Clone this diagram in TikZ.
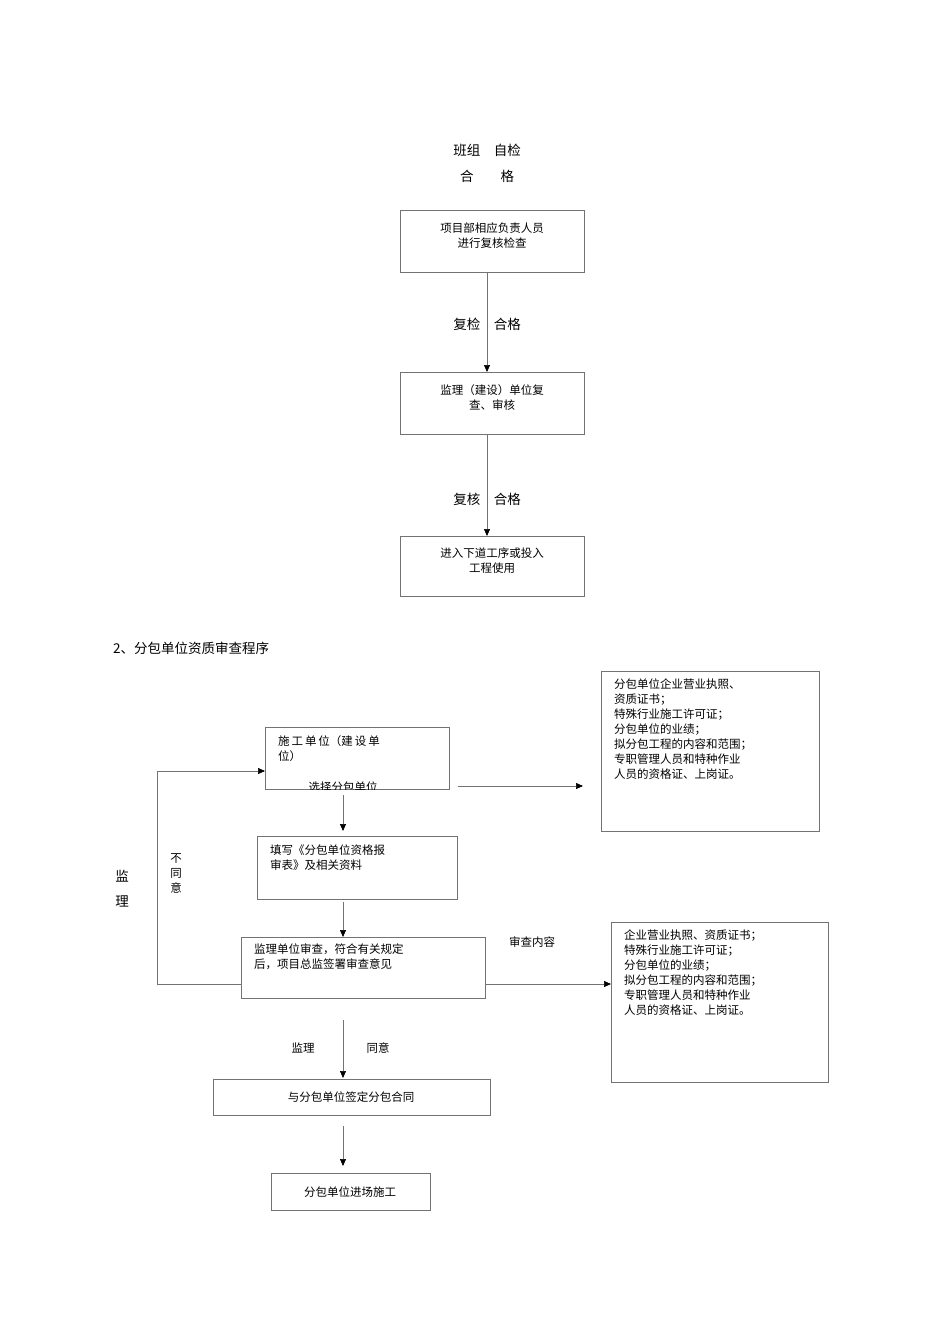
\documentclass[tikz,border=0pt]{standalone}
\usepackage{fontspec}
\setmainfont{Noto Sans CJK SC}
\usetikzlibrary{arrows.meta}
\begin{document}
\begin{tikzpicture}[x=1pt,y=-1pt,
 bx/.style={draw=black!55,line width=0.6pt,inner sep=0pt},
 ln/.style={draw=black!55,line width=0.6pt},
 ar/.style={ln,-{Triangle[black,length=7pt,width=6pt]}},
 t/.style={font=\fontsize{11.5pt}{15pt}\selectfont,inner sep=0pt,align=center},
 tl/.style={font=\fontsize{11.5pt}{15pt}\selectfont,inner sep=0pt,align=left,anchor=north west},
 h/.style={font=\fontsize{13.5pt}{17pt}\selectfont,inner sep=0pt}]
\useasboundingbox (0,0) rectangle (950,1344);
% top flow
\node[h] (h1) at (487,150) {班组\quad 自检};
\node[h] (h2) at (487,176) {合\qquad 格};
\draw[bx] (400,210) rectangle (584,272);
\node[t] (b1) at (492,236) {项目部相应负责人员\\进行复核检查};
\coordinate (b1s) at (487,272);
\draw[bx] (400,372) rectangle (584,434);
\node[t] (b2) at (492,398) {监理（建设）单位复\\查、审核};
\coordinate (b2n) at (487,372); \coordinate (b2s) at (487,434);
\draw[bx] (400,536) rectangle (584,596);
\node[t] (b3) at (492,561) {进入下道工序或投入\\工程使用};
\coordinate (b3n) at (487,536);
\draw[ar] (b1s) -- (b2n);
\draw[ar] (b2s) -- (b3n);
\node[h] (l1) at (487,324) {复检\quad 合格};
\node[h] (l2) at (487,499) {复核\quad 合格};
% heading
\node[h,anchor=west] (hd) at (113,648) {2、分包单位资质审查程序};
% box A
\node[bx,minimum width=184pt,minimum height=62pt,anchor=north west] (A) at (265,727) {};
\begin{scope}
\clip (265,727) rectangle (449,789);
\node[tl] (At) at (278,735) {施\,工\,单\,位（建\,设\,单\\位）};
\node[t] (At2) at (343,787) {选择分包单位};
\end{scope}
% right box 1
\node[bx,minimum width=218pt,minimum height=160pt,anchor=north west] (R1) at (601,671) {};
\node[tl] (R1t) at (614,679) {分包单位企业营业执照、\\资质证书；\\特殊行业施工许可证；\\分包单位的业绩；\\拟分包工程的内容和范围；\\专职管理人员和特种作业\\人员的资格证、上岗证。};
\coordinate (a1s) at (458,786); \coordinate (a1e) at (583,786);
\draw[ar] (a1s) -- (a1e);
% box B
\node[bx,minimum width=200pt,minimum height=63pt,anchor=north west] (B) at (257,836) {};
\node[tl] (Bt) at (270,845) {填写《分包单位资格报\\审表》及相关资料};
\coordinate (ab1) at (343,795); \coordinate (ab2) at (343,831);
\draw[ar] (ab1) -- (ab2);
% box C
\node[bx,minimum width=244pt,minimum height=61pt,anchor=north west] (C) at (241,937) {};
\node[tl] (Ct) at (254,944) {监理单位审查，符合有关规定\\后，项目总监签署审查意见};
\coordinate (ac1) at (343,902); \coordinate (ac2) at (343,937);
\draw[ar] (ac1) -- (ac2);
% feedback loop
\coordinate (f1) at (241,984); \coordinate (f2) at (157,984); \coordinate (f3) at (157,771);
\coordinate (f4) at (265,771);
\draw[ar] (f1) -- (f2) -- (f3) -- (f4);
\node[h] (jl1) at (122,876) {监};
\node[h] (jl2) at (122,901) {理};
\node[t,align=center] (bty) at (176,873) {不\\同\\意};
% right box 2
\node[bx,minimum width=217pt,minimum height=160pt,anchor=north west] (R2) at (611,922) {};
\node[tl] (R2t) at (624,930) {企业营业执照、资质证书；\\特殊行业施工许可证；\\分包单位的业绩；\\拟分包工程的内容和范围；\\专职管理人员和特种作业\\人员的资格证、上岗证。};
\coordinate (a2s) at (485,984); \coordinate (a2e) at (611,984);
\draw[ar] (a2s) -- (a2e);
\node[t] (scnr) at (532,942) {审查内容};
% box D
\node[bx,minimum width=277pt,minimum height=36pt,anchor=north west] (D) at (213,1079) {};
\node[t] (Dt) at (351,1097) {与分包单位签定分包合同};
\coordinate (ad1) at (343,1020); \coordinate (ad2) at (343,1078);
\draw[ar] (ad1) -- (ad2);
\node[t] (jl) at (303,1048) {监理};
\node[t] (ty) at (378,1048) {同意};
% box E
\node[bx,minimum width=159pt,minimum height=37pt,anchor=north west] (E) at (271,1173) {};
\node[t] (Et) at (350,1192) {分包单位进场施工};
\coordinate (ae1) at (343,1126); \coordinate (ae2) at (343,1166);
\draw[ar] (ae1) -- (ae2);
\end{tikzpicture}
\end{document}
